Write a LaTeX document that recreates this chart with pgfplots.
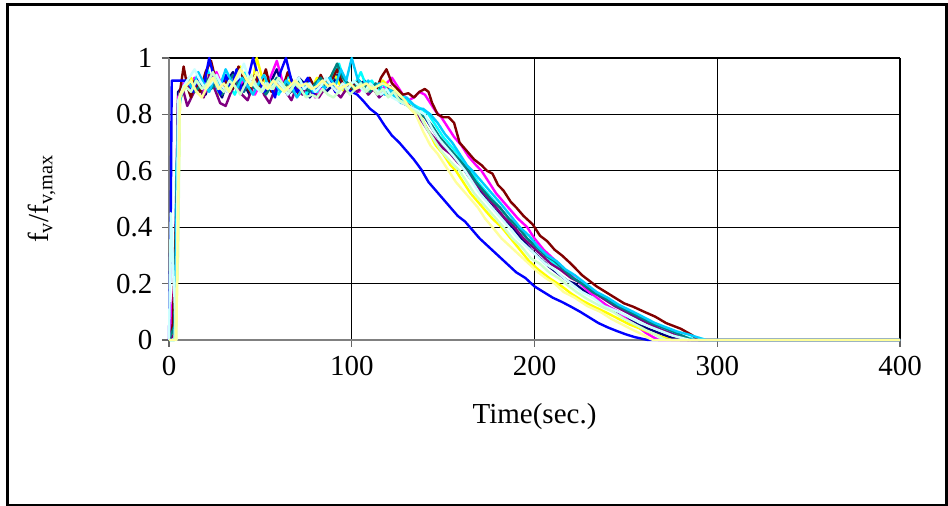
\documentclass[border=0pt]{standalone}
\usepackage{fontspec}
\setmainfont{Liberation Serif}
\usepackage{pgfplots}
\pgfplotsset{compat=1.18}
\definecolor{c1}{HTML}{000080}
\definecolor{c2}{HTML}{FF00FF}
\definecolor{c3}{HTML}{FFFF00}
\definecolor{c4}{HTML}{00FFFF}
\definecolor{c5}{HTML}{800080}
\definecolor{c6}{HTML}{800000}
\definecolor{c7}{HTML}{008080}
\definecolor{c8}{HTML}{0000FF}
\definecolor{c9}{HTML}{00CCFF}
\definecolor{c10}{HTML}{CCFFFF}
\definecolor{c11}{HTML}{CCFFCC}
\definecolor{c12}{HTML}{FFFF99}
\begin{document}
\begin{tikzpicture}
\useasboundingbox (0,0) rectangle (948pt,506pt);
\draw[line width=2.5pt] (7.5pt,1pt) rectangle (946.5pt,501.3pt);
\begin{axis}[
  at={(169pt,166pt)}, anchor=south west,
  scale only axis, width=731pt, height=282pt,
  xmin=0, xmax=400, ymin=0, ymax=1,
  xtick={0,100,200,300,400}, ytick={0,0.2,0.4,0.6,0.8,1},
  yticklabels={0,0.2,0.4,0.6,0.8,1},
  axis x line*=bottom, axis y line*=left,
  every outer x axis line/.append style={-},
  every outer y axis line/.append style={-},
  axis line style={draw=black!50, line width=1.5pt, -},
  xtick pos=left, ytick pos=left,
  tick align=outside, major tick length=7pt,
  tick style={draw=black!60, line width=1.3pt},
  grid=major, grid style={draw=black, line width=1.3pt},
  /pgf/number format/assume math mode=true,
  tick label style={font=\fontsize{29}{34}\selectfont},
  xticklabel style={yshift=-6pt},
  yticklabel style={xshift=-6pt},
  label style={font=\fontsize{29}{34}\selectfont},
  xlabel={Time(sec.)},
  ylabel={f\textsubscript{v}/f\textsubscript{v,max}},
  xlabel style={at={(axis description cs:0.5,-0.27)}, anchor=center},
  ylabel style={at={(axis description cs:-0.174,0.5)}, anchor=center},
  every axis plot/.append style={line width=2.4pt, no markers, line join=round},
  clip=false,
]
% 1 navy
\addplot[c1] coordinates {(0,0)(3,0.1)(5,0.88)(8,0.90)(11,0.93)(14,0.88)(17,0.91)(20,0.87)(23,0.94)(26,0.90)(29,0.86)(32,0.92)(35,0.95)(38,0.89)(41,0.91)(44,0.87)(47,0.93)(50,0.90)(53,0.88)(56,0.92)(59,0.96)(62,0.90)(65,0.87)(68,0.89)(71,0.93)(74,0.91)(77,0.86)(80,0.89)(83,0.92)(86,0.88)(89,0.90)(92,0.94)(95,0.89)(98,0.91)(101,0.88)(104,0.90)(107,0.92)(110,0.88)(113,0.90)(116,0.87)(119,0.89)(122,0.88)(125,0.86)(128,0.84)(131,0.83)(134,0.82)(137,0.81)(140,0.79)(144,0.75)(148,0.71)(152,0.68)(156,0.65)(160,0.62)(164,0.58)(168,0.55)(172,0.51)(176,0.48)(180,0.45)(184,0.42)(188,0.40)(193,0.36)(198,0.32)(203,0.29)(208,0.26)(213,0.235)(218,0.21)(222,0.20)(228,0.17)(234,0.145)(240,0.12)(245,0.10)(250,0.08)(256,0.06)(262,0.04)(268,0.025)(274,0.01)(280,0)(400,0)};
% 2 magenta
\addplot[c2] coordinates {(0,0)(3,0.2)(5,0.86)(8,0.91)(11,0.89)(14,0.93)(17,0.90)(20,0.88)(23,0.92)(26,0.95)(29,0.90)(32,0.88)(35,0.91)(38,0.89)(41,0.93)(44,0.90)(47,0.87)(50,0.91)(53,0.89)(56,0.94)(59,0.99)(62,0.92)(65,0.89)(68,0.90)(71,0.88)(74,0.91)(77,0.90)(80,0.86)(83,0.89)(86,0.92)(89,0.90)(92,0.88)(95,0.91)(98,0.89)(101,0.90)(104,0.88)(107,0.91)(110,0.89)(113,0.90)(116,0.88)(119,0.91)(122,0.93)(125,0.90)(128,0.87)(131,0.85)(134,0.86)(137,0.88)(140,0.87)(143,0.84)(146,0.81)(149,0.79)(152,0.76)(156,0.72)(160,0.69)(164,0.65)(168,0.62)(171,0.60)(175,0.56)(179,0.52)(183,0.49)(187,0.46)(191,0.43)(196,0.40)(200,0.36)(205,0.32)(210,0.29)(215,0.26)(220,0.23)(225,0.20)(230,0.17)(235,0.145)(240,0.12)(246,0.10)(251,0.07)(256,0.05)(261,0.025)(265,0.01)(268,0)(400,0)};
% 3 yellow
\addplot[c3] coordinates {(0,0)(4,0.05)(6,0.85)(9,0.90)(12,0.93)(15,0.89)(18,0.91)(21,0.95)(24,0.90)(27,0.87)(30,0.92)(33,0.89)(36,0.93)(39,0.97)(42,0.91)(45,0.88)(48,1.0)(51,0.93)(54,0.90)(57,0.88)(60,0.91)(63,0.89)(66,0.92)(69,0.90)(72,0.88)(75,0.91)(78,0.89)(81,0.93)(84,0.90)(87,0.92)(90,0.95)(93,0.91)(96,0.88)(99,0.90)(102,0.89)(105,0.91)(108,0.88)(111,0.90)(114,0.89)(117,0.92)(120,0.90)(123,0.87)(126,0.85)(129,0.84)(132,0.83)(135,0.81)(138,0.79)(142,0.74)(146,0.69)(150,0.66)(154,0.62)(157,0.60)(161,0.56)(165,0.52)(169,0.49)(173,0.46)(177,0.43)(182,0.40)(187,0.36)(192,0.32)(197,0.28)(202,0.25)(208,0.22)(215,0.19)(220,0.165)(226,0.14)(232,0.12)(240,0.095)(246,0.075)(252,0.055)(258,0.04)(264,0.025)(270,0.01)(275,0)(400,0)};
% 4 cyan
\addplot[c4] coordinates {(0,0)(3,0)(4,0.6)(6,0.88)(9,0.91)(12,0.87)(15,0.93)(18,0.90)(21,0.96)(24,0.91)(27,0.88)(30,0.94)(33,0.90)(36,0.87)(39,0.92)(42,0.95)(45,0.89)(48,0.91)(51,0.88)(54,0.93)(57,0.90)(60,0.87)(63,0.91)(66,0.94)(69,0.89)(72,0.92)(75,0.87)(78,0.90)(81,0.88)(84,0.92)(87,0.90)(90,0.93)(93,0.98)(96,0.92)(99,0.89)(102,0.91)(105,0.95)(108,0.90)(111,0.92)(114,0.88)(117,0.91)(120,0.89)(123,0.86)(126,0.88)(129,0.86)(132,0.84)(135,0.83)(138,0.82)(142,0.80)(146,0.76)(150,0.72)(154,0.69)(158,0.66)(162,0.62)(165,0.60)(169,0.56)(173,0.53)(177,0.50)(181,0.47)(186,0.43)(191,0.40)(196,0.36)(201,0.33)(206,0.30)(211,0.27)(216,0.25)(221,0.22)(226,0.20)(231,0.18)(237,0.155)(243,0.13)(250,0.10)(256,0.08)(262,0.06)(268,0.045)(274,0.03)(280,0.015)(286,0.005)(290,0)(400,0)};
% 5 purple
\addplot[c5] coordinates {(0,0)(3,0.02)(5,0.85)(8,0.88)(10,0.83)(13,0.87)(16,0.91)(19,0.86)(22,0.94)(25,0.89)(28,0.84)(31,0.83)(34,0.88)(37,0.92)(40,0.87)(43,0.85)(46,0.90)(49,0.93)(52,0.87)(55,0.84)(58,0.89)(61,0.92)(64,0.88)(67,0.85)(70,0.90)(73,0.87)(76,0.91)(79,0.88)(82,0.86)(85,0.89)(88,0.92)(91,0.88)(94,0.86)(97,0.89)(100,0.91)(103,0.88)(106,0.90)(109,0.87)(112,0.89)(115,0.86)(118,0.88)(121,0.90)(124,0.87)(127,0.85)(130,0.84)(133,0.82)(136,0.80)(138,0.78)(142,0.74)(146,0.71)(150,0.68)(154,0.66)(158,0.63)(163,0.60)(167,0.56)(171,0.53)(175,0.50)(179,0.47)(184,0.43)(189,0.40)(194,0.36)(199,0.33)(204,0.30)(209,0.27)(214,0.25)(220,0.22)(226,0.20)(232,0.17)(238,0.145)(244,0.12)(250,0.10)(256,0.08)(262,0.06)(268,0.04)(274,0.025)(280,0.01)(284,0)(400,0)};
% 6 maroon
\addplot[c6] coordinates {(0,0)(2,0.05)(4,0.45)(6,0.88)(8,0.97)(10,0.90)(12,0.86)(14,0.92)(17,0.88)(20,0.95)(23,0.99)(26,0.91)(29,0.87)(32,0.93)(35,0.89)(38,0.97)(41,0.92)(44,0.88)(47,0.94)(50,0.90)(53,0.96)(56,0.88)(59,0.92)(62,0.89)(65,0.95)(68,0.91)(71,0.87)(74,0.90)(77,0.93)(80,0.89)(83,0.94)(86,0.90)(89,0.92)(92,0.96)(95,0.91)(98,0.88)(101,0.90)(104,0.92)(107,0.89)(110,0.91)(113,0.88)(116,0.93)(119,0.96)(122,0.91)(125,0.89)(128,0.87)(131,0.875)(134,0.86)(137,0.88)(140,0.89)(142,0.88)(144,0.84)(147,0.80)(150,0.79)(153,0.79)(156,0.77)(159,0.70)(163,0.67)(167,0.64)(171,0.62)(174,0.60)(177,0.59)(180,0.55)(183,0.53)(187,0.49)(190,0.47)(194,0.44)(199,0.41)(203,0.37)(207,0.35)(211,0.32)(215,0.30)(220,0.27)(226,0.23)(230,0.21)(234,0.19)(239,0.17)(244,0.15)(249,0.13)(254,0.118)(260,0.10)(266,0.083)(272,0.06)(280,0.04)(286,0.018)(290,0)(400,0)};
% 7 teal
\addplot[c7] coordinates {(0,0)(3,0.05)(5,0.84)(8,0.89)(11,0.92)(14,0.88)(17,0.90)(20,0.93)(23,0.89)(26,0.91)(29,0.87)(32,0.90)(35,0.94)(38,0.90)(41,0.88)(44,0.92)(47,0.89)(50,0.91)(53,0.87)(56,0.90)(59,0.93)(62,0.89)(65,0.91)(68,0.88)(71,0.92)(74,0.90)(77,0.88)(80,0.91)(83,0.93)(86,0.90)(89,0.94)(92,0.98)(95,0.93)(98,0.91)(101,0.89)(104,0.92)(107,0.90)(110,0.88)(113,0.91)(116,0.89)(119,0.87)(122,0.89)(125,0.86)(128,0.85)(131,0.83)(134,0.82)(137,0.81)(140,0.79)(144,0.76)(148,0.72)(152,0.69)(156,0.66)(160,0.63)(164,0.60)(168,0.56)(172,0.53)(176,0.50)(181,0.47)(186,0.43)(191,0.40)(196,0.36)(201,0.33)(206,0.30)(211,0.28)(216,0.25)(221,0.22)(226,0.20)(232,0.17)(238,0.15)(244,0.125)(252,0.10)(258,0.08)(264,0.06)(270,0.045)(276,0.03)(282,0.012)(286,0)(400,0)};
% 8 blue
\addplot[c8] coordinates {(0,0)(1,0.47)(1.5,0.92)(10,0.92)(13,0.88)(16,0.93)(19,0.90)(22,1.0)(25,0.92)(28,0.87)(31,0.94)(34,0.89)(37,0.96)(40,0.88)(43,0.92)(46,1.0)(49,0.93)(52,0.88)(55,0.91)(58,0.86)(61,0.95)(64,1.0)(67,0.92)(70,0.88)(73,0.90)(76,0.93)(79,0.87)(82,0.91)(85,0.89)(88,0.93)(91,0.88)(94,0.90)(97,0.89)(100,0.88)(103,0.87)(106,0.85)(110,0.82)(114,0.80)(118,0.76)(122,0.725)(126,0.70)(130,0.67)(134,0.64)(138,0.605)(142,0.56)(146,0.53)(150,0.50)(154,0.47)(158,0.44)(162,0.42)(166,0.39)(170,0.36)(175,0.33)(180,0.30)(185,0.27)(190,0.24)(195,0.22)(200,0.19)(205,0.17)(210,0.15)(215,0.135)(220,0.118)(225,0.10)(230,0.08)(235,0.06)(240,0.045)(245,0.032)(250,0.02)(255,0.01)(262,0)(400,0)};
% 9 sky blue
\addplot[c9] coordinates {(0,0)(3,0)(5,0.80)(7,0.88)(10,0.92)(13,0.89)(16,0.95)(19,0.91)(22,0.88)(25,0.93)(28,0.90)(31,0.96)(34,0.92)(37,0.89)(40,0.93)(43,0.90)(46,0.87)(49,0.91)(52,0.94)(55,0.89)(58,0.91)(61,0.88)(64,0.92)(67,0.90)(70,0.86)(73,0.89)(76,0.91)(79,0.88)(82,0.92)(85,0.89)(88,0.93)(91,0.90)(94,0.96)(97,0.92)(100,1.0)(103,0.93)(106,0.90)(109,0.92)(112,0.89)(115,0.91)(118,0.87)(121,0.89)(124,0.86)(127,0.84)(130,0.86)(133,0.84)(136,0.82)(139,0.82)(143,0.80)(147,0.77)(151,0.73)(155,0.70)(159,0.66)(163,0.62)(166,0.60)(170,0.57)(174,0.54)(178,0.51)(182,0.48)(187,0.44)(192,0.40)(197,0.37)(202,0.33)(207,0.30)(212,0.28)(217,0.25)(222,0.23)(228,0.20)(234,0.17)(240,0.15)(246,0.125)(254,0.10)(260,0.08)(266,0.06)(272,0.045)(278,0.03)(284,0.02)(290,0.008)(294,0)(400,0)};
% 10 light turquoise
\addplot[c10] coordinates {(0,0)(1,0.45)(3,0.15)(4,0)(5,0.85)(8,0.90)(11,0.93)(14,0.96)(17,0.92)(20,0.89)(23,0.91)(26,0.94)(29,0.90)(32,0.88)(35,0.91)(38,0.93)(41,0.98)(44,0.92)(47,0.90)(50,0.88)(53,0.91)(56,0.89)(59,0.92)(62,0.90)(65,0.87)(68,0.90)(71,0.93)(74,0.89)(77,0.91)(80,0.88)(83,0.90)(86,0.93)(89,0.90)(92,0.88)(95,0.91)(98,0.89)(101,0.92)(104,0.90)(107,0.88)(110,0.91)(113,0.89)(116,0.87)(119,0.89)(122,0.86)(125,0.85)(128,0.84)(131,0.83)(134,0.82)(137,0.81)(140,0.80)(144,0.75)(148,0.71)(152,0.68)(156,0.65)(162,0.60)(166,0.56)(170,0.52)(174,0.49)(178,0.46)(182,0.43)(186,0.40)(191,0.36)(196,0.33)(201,0.30)(206,0.27)(211,0.25)(216,0.22)(220,0.20)(226,0.17)(232,0.15)(238,0.12)(246,0.10)(252,0.08)(258,0.06)(264,0.045)(270,0.03)(276,0.015)(282,0.005)(285,0)(400,0)};
% 11 light green
\addplot[c11] coordinates {(0,0)(3,0)(5,0.30)(6,0.86)(9,0.90)(12,0.88)(15,0.92)(18,0.89)(21,0.91)(24,0.95)(27,0.90)(30,0.88)(33,0.92)(36,0.90)(39,0.87)(42,0.91)(45,0.94)(48,0.90)(51,0.88)(54,0.91)(57,0.89)(60,0.93)(63,0.90)(66,0.88)(69,0.91)(72,0.89)(75,0.86)(78,0.87)(81,0.86)(84,0.89)(87,0.87)(90,0.86)(93,0.88)(96,0.90)(99,0.87)(102,0.89)(105,0.91)(108,0.88)(111,0.90)(114,0.87)(117,0.89)(120,0.86)(123,0.88)(126,0.85)(129,0.84)(132,0.82)(135,0.81)(137,0.80)(141,0.75)(145,0.71)(149,0.67)(153,0.64)(156,0.62)(159,0.60)(163,0.56)(167,0.52)(171,0.49)(175,0.46)(179,0.43)(183,0.40)(188,0.36)(193,0.33)(198,0.29)(203,0.27)(208,0.24)(213,0.22)(217,0.20)(223,0.17)(229,0.145)(236,0.12)(243,0.10)(249,0.075)(255,0.055)(261,0.035)(266,0.02)(270,0.005)(272,0)(400,0)};
% 12 light yellow
\addplot[c12] coordinates {(0,0)(4,0)(5,0.5)(6,0.87)(9,0.90)(12,0.92)(15,0.88)(18,0.86)(21,0.90)(24,0.93)(27,0.89)(30,0.91)(33,0.88)(36,0.92)(39,0.96)(42,0.93)(45,0.90)(48,0.95)(51,0.91)(54,0.89)(57,0.92)(60,0.90)(63,0.88)(66,0.90)(69,0.92)(72,0.90)(75,0.91)(78,0.89)(81,0.90)(84,0.92)(87,0.90)(90,0.91)(93,0.89)(96,0.90)(99,0.91)(102,0.89)(105,0.90)(108,0.91)(111,0.89)(114,0.90)(117,0.91)(120,0.90)(123,0.89)(126,0.87)(129,0.85)(132,0.82)(135,0.80)(139,0.74)(143,0.69)(147,0.66)(150,0.63)(153,0.60)(157,0.56)(161,0.53)(165,0.50)(169,0.47)(173,0.43)(177,0.40)(182,0.36)(187,0.33)(192,0.30)(197,0.27)(202,0.24)(206,0.22)(211,0.20)(216,0.17)(222,0.15)(229,0.12)(236,0.10)(242,0.075)(248,0.055)(254,0.035)(259,0.02)(263,0.005)(265,0)(400,0)};
\end{axis}
\end{tikzpicture}
\end{document}
